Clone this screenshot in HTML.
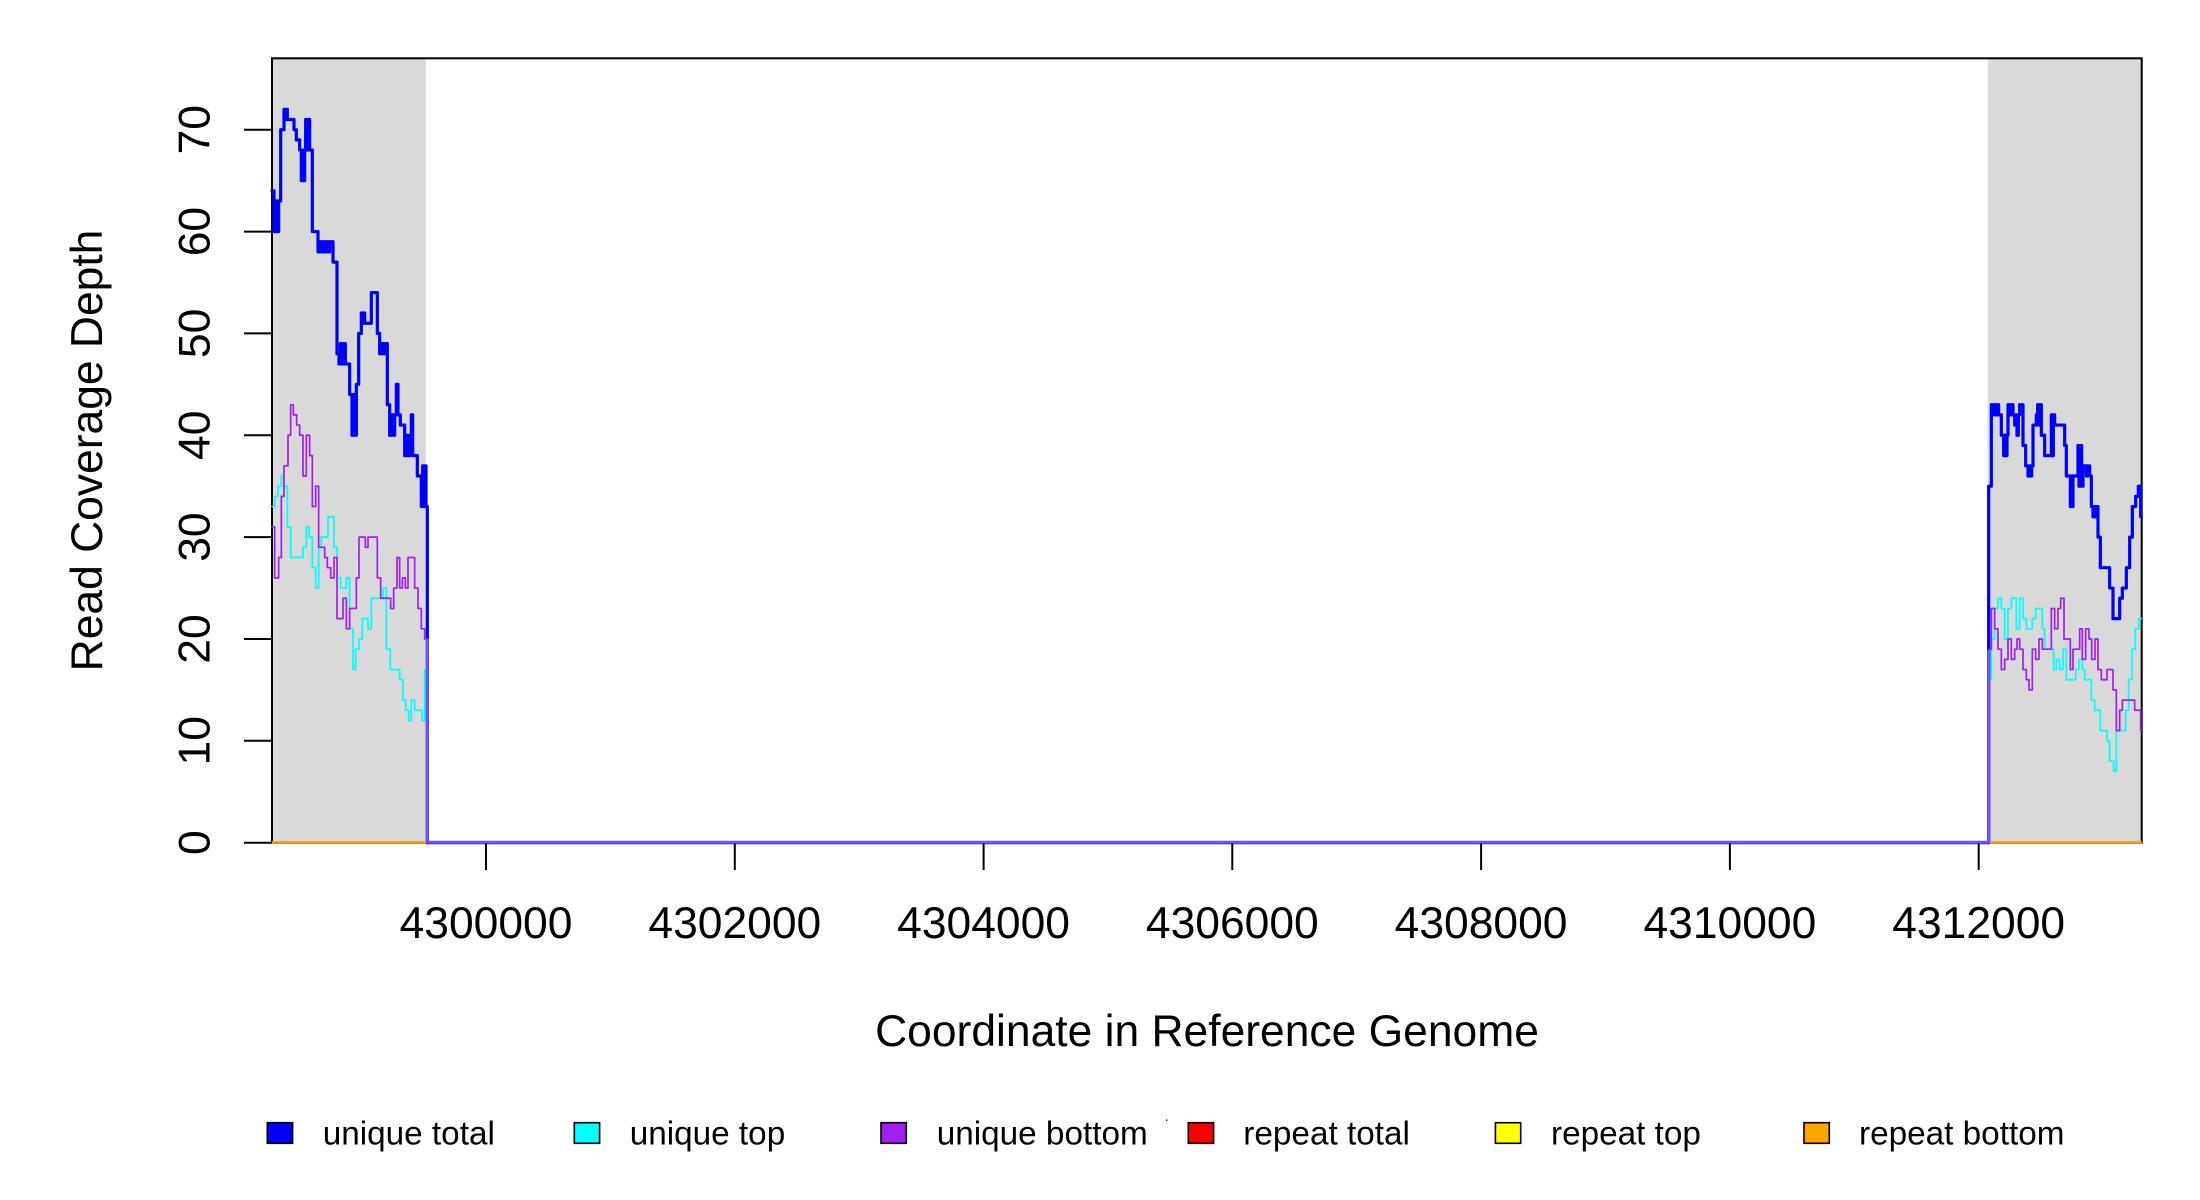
<!DOCTYPE html>
<html><head><meta charset="utf-8"><style>
html,body{margin:0;padding:0;background:#fff;}
svg{display:block;}
text{font-family:"Liberation Sans",Arial,sans-serif;fill:#000;}
</style></head><body>
<svg width="2200" height="1200" viewBox="0 0 2200 1200" xmlns="http://www.w3.org/2000/svg">
<rect x="0" y="0" width="2200" height="1200" fill="#fff"/>
<!-- shaded regions -->
<rect x="272" y="58.3" width="153.7" height="784.4" fill="#d9d9d9"/>
<rect x="1987.7" y="58.3" width="154" height="784.4" fill="#d9d9d9"/>

<!-- plot box -->
<rect x="272" y="58.3" width="1869.7" height="784.4" fill="none" stroke="#000" stroke-width="2"/>

<g transform="translate(268 842.7) scale(0.333333 -10.186)" fill="none" stroke-linejoin="round" stroke-linecap="round">
  <!-- blue unique total -->
  <g stroke="#0000ff">
    <path vector-effect="non-scaling-stroke" stroke-width="3.2" d="M12,64H18V60H22V63H24V60H27V63H29V60H32V63H38V70H48V72H52V71H54V72H58V71H78V70H85V69H95V68H100V65H104V68H107V65H110V68H113V71H117V68H120V71H125V68H133V60H150V58H155V59H160V58H165V59H170V58H175V59H180V58H185V59H195V57H207V48H213V47H217V49H222V47H227V49H232V47H245V44H252V40H256V44H260V40H265V45H272V50H280V52H284V51H287V52H290V51H310V54H328V50H335V48H340V49H345V48H350V49H358V43H365V40H370V42H374V40H380V42H385V45H390V42H397V41H410V38H414V40H418V38H425V40H430V42H434V38H448V36H460V33H464V37H467V33H471V37H474V33H478V0"/>
    <path vector-effect="non-scaling-stroke" stroke-width="3.2" d="M478,0H5162"/>
    <g transform="translate(5145 0)">
      <path vector-effect="non-scaling-stroke" stroke-width="3.2" d="M17,0V35H25V43H30V42H33V43H38V42H42V43H47V42H55V40H62V38H65V40H68V38H72V40H75V43H80V42H84V43H90V42H95V41H98V42H102V40H106V42H110V43H120V39H128V37H135V36H138V37H142V36H146V37H150V41H160V42H164V43H168V41H172V43H175V40H185V38H205V42H208V38H211V42H215V41H245V39H250V36H262V33H265V36H268V33H270V36H285V39H288V35H292V39H296V35H300V37H310V36H313V37H320V36H325V33H330V32H334V33H338V32H342V33H345V30H352V27H380V25H390V22H410V24H418V25H430V27H440V30H448V33H458V34H466V35H473V32H475"/>
    </g>
  </g>
  <!-- cyan unique top -->
  <g stroke="#00ffff">
    <path vector-effect="non-scaling-stroke" stroke-width="1.7" d="M12,33H20V34H30V35H40V36H48V35H58V31H68V28H105V29H115V31H123V30H133V27H143V25H152V29H160V30H180V32H198V29H207V26H218V25H235V26H245V21H255V17H263V19H273V20H283V22H300V21H310V24H345V25H355V19H367V17H395V16H405V14H413V13H422V12H430V14H440V13H462V12H470V17H478V0"/>
    <g transform="translate(5145 0)">
      <path vector-effect="non-scaling-stroke" stroke-width="1.7" d="M20,0V16H25V20H35V23H45V24H55V23H65V20H75V23H85V24H100V21H110V24H120V22H130V21H148V22H158V23H178V21H185V19H212V17H220V18H230V17H240V19H250V16H278V17H288V18H298V17H305V16H325V14H335V13H352V11H372V10H380V8H392V7H400V11H428V13H437V16H447V19H457V21H467V22H475"/>
    </g>
  </g>
  <!-- purple unique bottom -->
  <g stroke="#a020f0">
    <path vector-effect="non-scaling-stroke" stroke-width="1.7" d="M12,31H20V26H32V28H40V34H48V37H60V40H68V43H76V42H86V41H95V40H105V36H115V40H125V38H133V33H143V35H152V29H170V28H178V27H188V26H198V28H207V22H225V24H235V21H245V23H265V26H273V30H292V29H300V30H328V26H338V24H368V23H377V25H387V28H395V25H403V26H412V25H420V28H440V25H450V23H460V21H470V20H478V0"/>
    <g transform="translate(5145 0)">
      <path vector-effect="non-scaling-stroke" stroke-width="1.7" d="M20,0V19H25V23H35V21H45V19H55V17H65V18H75V20H85V18H95V19H102V20H110V19H120V17H130V16H138V15H148V19H158V18H168V20H178V19H205V23H215V21H225V23H233V24H243V20H262V17H270V19H290V21H298V18H308V21H318V20H326V18H336V20H345V17H355V16H372V17H390V15H400V11H410V13H418V14H455V13H473V11H475"/>
    </g>
  </g>
</g>
<!-- blended overlap at baseline / drops -->
<g stroke="#6a55ff" stroke-width="3" fill="none">
  <line x1="427.3" y1="842.2" x2="1988.7" y2="842.2"/>
  <line x1="427.3" y1="842.7" x2="427.3" y2="639"/>
  <line x1="1988.7" y1="842.7" x2="1988.7" y2="650"/>
</g>
<!-- repeat series at zero (only within shaded regions) -->
<line x1="272" y1="842.2" x2="426" y2="842.2" stroke="#ff0000" stroke-width="2"/>
<line x1="272" y1="842.2" x2="426" y2="842.2" stroke="#ffff00" stroke-width="2"/>
<line x1="272" y1="842.2" x2="426" y2="842.2" stroke="#ff9900" stroke-width="2"/>
<line x1="1990" y1="842.2" x2="2141.7" y2="842.2" stroke="#ff0000" stroke-width="2"/>
<line x1="1990" y1="842.2" x2="2141.7" y2="842.2" stroke="#ffff00" stroke-width="2"/>
<line x1="1990" y1="842.2" x2="2141.7" y2="842.2" stroke="#ff9900" stroke-width="2"/>

<!-- y axis ticks -->
<g stroke="#000" stroke-width="2">
  <line x1="244" y1="842.7" x2="272" y2="842.7"/>
  <line x1="244" y1="740.8" x2="272" y2="740.8"/>
  <line x1="244" y1="639.0" x2="272" y2="639.0"/>
  <line x1="244" y1="537.1" x2="272" y2="537.1"/>
  <line x1="244" y1="435.3" x2="272" y2="435.3"/>
  <line x1="244" y1="333.4" x2="272" y2="333.4"/>
  <line x1="244" y1="231.6" x2="272" y2="231.6"/>
  <line x1="244" y1="129.7" x2="272" y2="129.7"/>
</g>
<g font-size="44.4" text-anchor="middle">
  <text transform="translate(209.4 842.7) rotate(-90)">0</text>
  <text transform="translate(209.4 740.8) rotate(-90)">10</text>
  <text transform="translate(209.4 639.0) rotate(-90)">20</text>
  <text transform="translate(209.4 537.1) rotate(-90)">30</text>
  <text transform="translate(209.4 435.3) rotate(-90)">40</text>
  <text transform="translate(209.4 333.4) rotate(-90)">50</text>
  <text transform="translate(209.4 231.6) rotate(-90)">60</text>
  <text transform="translate(209.4 129.7) rotate(-90)">70</text>
</g>

<!-- x axis ticks -->
<g stroke="#000" stroke-width="2">
  <line x1="486" y1="843.5" x2="486" y2="870"/>
  <line x1="734.8" y1="843.5" x2="734.8" y2="870"/>
  <line x1="983.6" y1="843.5" x2="983.6" y2="870"/>
  <line x1="1232.3" y1="843.5" x2="1232.3" y2="870"/>
  <line x1="1481.1" y1="843.5" x2="1481.1" y2="870"/>
  <line x1="1729.9" y1="843.5" x2="1729.9" y2="870"/>
  <line x1="1978.7" y1="843.5" x2="1978.7" y2="870"/>
</g>
<g font-size="44.4" text-anchor="middle">
  <text x="486" y="938">4300000</text>
  <text x="734.8" y="938">4302000</text>
  <text x="983.6" y="938">4304000</text>
  <text x="1232.3" y="938">4306000</text>
  <text x="1481.1" y="938">4308000</text>
  <text x="1729.9" y="938">4310000</text>
  <text x="1978.7" y="938">4312000</text>
</g>

<!-- axis titles -->
<text x="1207" y="1046" font-size="44.4" text-anchor="middle">Coordinate in Reference Genome</text>
<text transform="translate(102 450.5) rotate(-90)" font-size="44.4" text-anchor="middle">Read Coverage Depth</text>

<!-- legend -->
<g stroke="#000" stroke-width="1.6">
  <rect x="267.3" y="1122.7" width="25.3" height="20.6" fill="#0000ff"/>
  <rect x="574.3" y="1122.7" width="25.3" height="20.6" fill="#00ffff"/>
  <rect x="881" y="1122.7" width="25.3" height="20.6" fill="#a020f0"/>
  <rect x="1188.3" y="1122.7" width="25.3" height="20.6" fill="#ff0000"/>
  <rect x="1495.4" y="1122.7" width="25.3" height="20.6" fill="#ffff00"/>
  <rect x="1804" y="1122.7" width="25.3" height="20.6" fill="#ffa500"/>
</g>
<rect x="1166" y="1119.5" width="1.5" height="1.5" fill="#333"/>
<g font-size="33.3">
  <text x="322.7" y="1144.3">unique total</text>
  <text x="629.7" y="1144.3">unique top</text>
  <text x="936.7" y="1144.3">unique bottom</text>
  <text x="1243.3" y="1144.3">repeat total</text>
  <text x="1551" y="1144.3">repeat top</text>
  <text x="1859" y="1144.3">repeat bottom</text>
</g>
</svg>
</body></html>
